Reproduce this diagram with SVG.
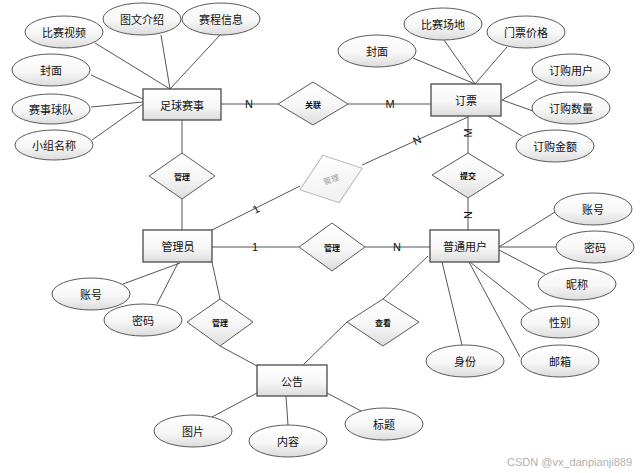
<svg xmlns="http://www.w3.org/2000/svg" width="642" height="473" viewBox="0 0 642 473">
<defs>
<linearGradient id="g" x1="0" y1="0" x2="0" y2="1">
<stop offset="0" stop-color="#ffffff"/>
<stop offset="0.55" stop-color="#f7f7f7"/>
<stop offset="1" stop-color="#dcdcdc"/>
</linearGradient>
<linearGradient id="gl" x1="0" y1="0" x2="0" y2="1">
<stop offset="0" stop-color="#ffffff"/>
<stop offset="1" stop-color="#f0f0f0"/>
</linearGradient>
</defs>
<style>
.e{fill:url(#g);stroke:#5a5a5a;stroke-width:1}
.r{fill:url(#g);stroke:#4a4a4a;stroke-width:1.3}
.d{fill:url(#g);stroke:#5a5a5a;stroke-width:1}
.dg{fill:url(#gl);stroke:#b8b8b8;stroke-width:1}
.t{font-family:"Noto Sans CJK SC","Noto Sans",sans-serif;font-size:11px;fill:#111;text-anchor:middle;dominant-baseline:central}
.s{font-family:"Noto Sans CJK SC","Noto Sans",sans-serif;font-size:8px;font-weight:bold;fill:#111;text-anchor:middle;dominant-baseline:central}
.sg{font-family:"Noto Sans CJK SC","Noto Sans",sans-serif;font-size:8px;fill:#999;text-anchor:middle;dominant-baseline:central}
.c{stroke:#555;stroke-width:1;fill:none}
.lb{font-family:"Liberation Sans",Arial,sans-serif;font-size:11px;fill:#111;text-anchor:middle;dominant-baseline:central}
.lbg{fill:#fff}
</style>
<g id="connectors">
<line class="c" x1="95" y1="43" x2="170" y2="89"/>
<line class="c" x1="161" y1="35" x2="170" y2="89"/>
<line class="c" x1="220" y1="35" x2="170" y2="89"/>
<line class="c" x1="91" y1="75" x2="143" y2="99"/>
<line class="c" x1="91" y1="107" x2="143" y2="102"/>
<line class="c" x1="92" y1="140" x2="143" y2="104"/>
<line class="c" x1="221" y1="104" x2="278" y2="104"/>
<line class="c" x1="348" y1="104" x2="431" y2="104"/>
<line class="c" x1="413" y1="58" x2="475" y2="84"/>
<line class="c" x1="444" y1="40" x2="475" y2="84"/>
<line class="c" x1="507" y1="47" x2="475" y2="84"/>
<line class="c" x1="537" y1="80" x2="502" y2="100"/>
<line class="c" x1="533" y1="111" x2="502" y2="100" stroke-width="1.4"/>
<line class="c" x1="522" y1="136" x2="488" y2="116"/>
<line class="c" x1="468" y1="116" x2="468" y2="153"/>
<line class="c" x1="468" y1="198" x2="468" y2="230"/>
<line class="c" x1="362" y1="165" x2="468" y2="117"/>
<line class="c" x1="182" y1="120" x2="182" y2="153"/>
<line class="c" x1="182" y1="199" x2="182" y2="230"/>
<line class="c" x1="212" y1="230" x2="300" y2="186"/>
<line class="c" x1="212" y1="247" x2="299" y2="247"/>
<line class="c" x1="365" y1="247" x2="430" y2="247"/>
<line class="c" x1="499" y1="247" x2="555" y2="212"/>
<line class="c" x1="499" y1="247" x2="556" y2="247"/>
<line class="c" x1="499" y1="250" x2="545" y2="274"/>
<line class="c" x1="470" y1="262" x2="532" y2="311"/>
<line class="c" x1="469" y1="262" x2="520" y2="357"/>
<line class="c" x1="442" y1="262" x2="462" y2="345"/>
<line class="c" x1="428" y1="256" x2="383" y2="299"/>
<line class="c" x1="347" y1="322" x2="303" y2="365"/>
<line class="c" x1="180" y1="263" x2="123" y2="284"/>
<line class="c" x1="178" y1="263" x2="157" y2="304"/>
<line class="c" x1="212" y1="262" x2="220" y2="299"/>
<line class="c" x1="220" y1="346" x2="257" y2="366"/>
<line class="c" x1="212" y1="417" x2="257" y2="393"/>
<line class="c" x1="288" y1="425" x2="286" y2="396"/>
<line class="c" x1="363" y1="412" x2="327" y2="393"/>
<text class="lb" x="249" y="104">N</text>
<text class="lb" x="390" y="104">M</text>
<text class="lb" x="468" y="133" transform="rotate(-90 468 133)">M</text>
<text class="lb" x="468" y="215" transform="rotate(-90 468 215)">N</text>
<text class="lb" x="417" y="140" transform="rotate(-24 417 140)">N</text>
<text class="lb" x="256" y="209" transform="rotate(-27 256 209)">1</text>
<text class="lb" x="255" y="247">1</text>
<text class="lb" x="397" y="247">N</text>
</g>
<g id="football"><rect class="r" x="143" y="89" width="78" height="31"/><text class="t" x="182" y="104.5">足球赛事</text></g>
<g id="f-video"><ellipse class="e" cx="64" cy="32" rx="39" ry="16"/><text class="t" x="64" y="32">比赛视频</text></g>
<g id="f-intro"><ellipse class="e" cx="142" cy="19" rx="39" ry="16"/><text class="t" x="142" y="19">图文介绍</text></g>
<g id="f-schedule"><ellipse class="e" cx="221" cy="19" rx="39" ry="16"/><text class="t" x="221" y="19">赛程信息</text></g>
<g id="f-cover"><ellipse class="e" cx="51" cy="70" rx="39" ry="16"/><text class="t" x="51" y="70">封面</text></g>
<g id="f-team"><ellipse class="e" cx="51" cy="109" rx="39" ry="15"/><text class="t" x="51" y="109">赛事球队</text></g>
<g id="f-group"><ellipse class="e" cx="54" cy="145" rx="39" ry="15"/><text class="t" x="54" y="145">小组名称</text></g>
<g id="rel-link"><polygon class="d" points="278,104 313,82 348,104 313,125"/><text class="s" x="313" y="104">关联</text></g>
<g id="ticket"><rect class="r" x="431" y="84" width="70" height="32"/><text class="t" x="466" y="100">订票</text></g>
<g id="t-cover"><ellipse class="e" cx="377" cy="51" rx="39" ry="16"/><text class="t" x="377" y="51">封面</text></g>
<g id="t-venue"><ellipse class="e" cx="443" cy="24" rx="39" ry="16"/><text class="t" x="443" y="24">比赛场地</text></g>
<g id="t-price"><ellipse class="e" cx="526" cy="32" rx="39" ry="16"/><text class="t" x="526" y="32">门票价格</text></g>
<g id="t-user"><ellipse class="e" cx="571" cy="70" rx="39" ry="16"/><text class="t" x="571" y="70">订购用户</text></g>
<g id="t-qty"><ellipse class="e" cx="571" cy="108" rx="39" ry="16"/><text class="t" x="571" y="108">订购数量</text></g>
<g id="t-amount"><ellipse class="e" cx="555" cy="146" rx="39" ry="16"/><text class="t" x="555" y="146">订购金额</text></g>
<g id="rel-submit"><polygon class="d" points="432,175 468,153 504,175 468,198"/><text class="s" x="468" y="175">提交</text></g>
<g id="rel-manage-gray" transform="translate(331 179) rotate(-19)"><polygon class="dg" points="-33,0 0,-25 33,0 0,25"/><text class="sg" x="0" y="0">管理</text></g>
<g id="rel-manage-1"><polygon class="d" points="149,176 182,153 215,176 182,199"/><text class="s" x="182" y="176">管理</text></g>
<g id="admin"><rect class="r" x="143" y="230" width="69" height="32"/><text class="t" x="178" y="246">管理员</text></g>
<g id="a-account"><ellipse class="e" cx="91" cy="294" rx="39" ry="16"/><text class="t" x="91" y="294">账号</text></g>
<g id="a-pwd"><ellipse class="e" cx="143" cy="320" rx="39" ry="16"/><text class="t" x="143" y="320">密码</text></g>
<g id="rel-manage-2"><polygon class="d" points="299,247 332,223 365,247 332,271"/><text class="s" x="332" y="247">管理</text></g>
<g id="rel-manage-3"><polygon class="d" points="187,322 220,299 253,322 220,346"/><text class="s" x="220" y="322">管理</text></g>
<g id="user"><rect class="r" x="430" y="230" width="69" height="32"/><text class="t" x="465" y="246">普通用户</text></g>
<g id="u-account"><ellipse class="e" cx="593" cy="209" rx="39" ry="16"/><text class="t" x="593" y="209">账号</text></g>
<g id="u-pwd"><ellipse class="e" cx="595" cy="247" rx="39" ry="16"/><text class="t" x="595" y="247">密码</text></g>
<g id="u-nick"><ellipse class="e" cx="577" cy="284" rx="39" ry="16"/><text class="t" x="577" y="284">昵称</text></g>
<g id="u-gender"><ellipse class="e" cx="560" cy="322" rx="39" ry="16"/><text class="t" x="560" y="322">性别</text></g>
<g id="u-mail"><ellipse class="e" cx="560" cy="361" rx="39" ry="16"/><text class="t" x="560" y="361">邮箱</text></g>
<g id="u-role"><ellipse class="e" cx="465" cy="361" rx="39" ry="16"/><text class="t" x="465" y="361">身份</text></g>
<g id="rel-view"><polygon class="d" points="347,322 383,299 419,322 383,346"/><text class="s" x="383" y="322">查看</text></g>
<g id="notice"><rect class="r" x="257" y="365" width="70" height="31"/><text class="t" x="292" y="380.5">公告</text></g>
<g id="n-pic"><ellipse class="e" cx="193" cy="431" rx="39" ry="16"/><text class="t" x="193" y="431">图片</text></g>
<g id="n-content"><ellipse class="e" cx="288" cy="441" rx="39" ry="16"/><text class="t" x="288" y="441">内容</text></g>
<g id="n-title"><ellipse class="e" cx="384" cy="424" rx="39" ry="16"/><text class="t" x="384" y="424">标题</text></g>
<text x="632" y="462" font-family="'Liberation Sans',Arial,sans-serif" font-size="11" fill="#b0b0b0" text-anchor="end" dominant-baseline="central">CSDN @vx_danpianji889</text>
</svg>
